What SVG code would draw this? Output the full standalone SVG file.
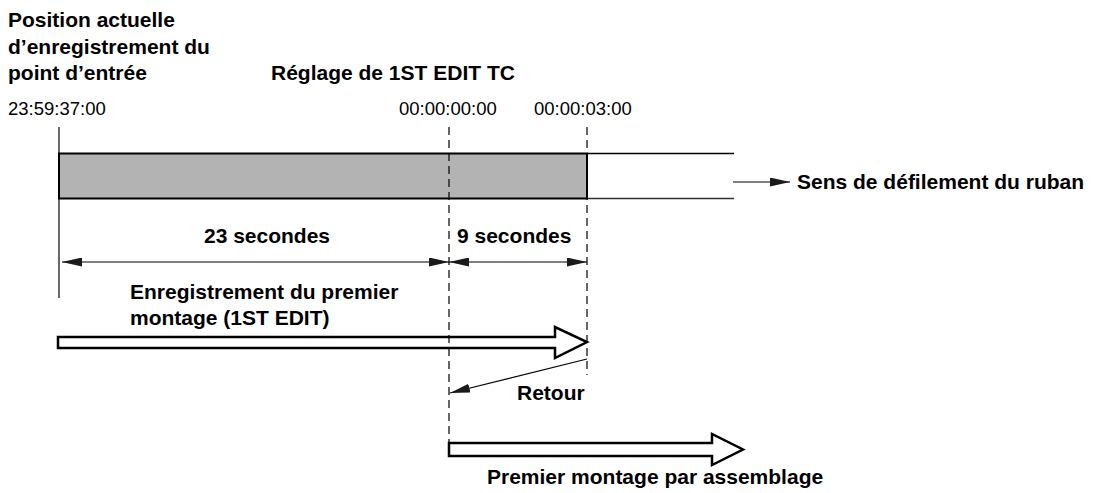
<svg xmlns="http://www.w3.org/2000/svg" width="1094" height="493" viewBox="0 0 1094 493">
<style>
.b{font-family:"Liberation Sans",Arial,sans-serif;font-weight:bold;font-size:21px;fill:#000}
.r{font-family:"Liberation Sans",Arial,sans-serif;font-size:18.5px;fill:#000}
.dash{stroke:#000;stroke-width:1.2;stroke-dasharray:8 5;fill:none}
.thin{stroke:#000;stroke-width:1.2;fill:none}
.hollow{fill:#fff;stroke:#000;stroke-width:2.5;stroke-linejoin:miter}
</style>
<defs>
<marker id="ah" viewBox="0 0 20 9" refX="20" refY="4.5" markerWidth="20" markerHeight="9" markerUnits="userSpaceOnUse" orient="auto-start-reverse">
<path d="M0,0 L20,4.5 L0,9 Z" fill="#1a1a1a"/>
</marker>
</defs>
<rect width="1094" height="493" fill="#fff"/>
<g id="labels">
<text class="b" x="8" y="27">Position actuelle</text>
<text class="b" x="8" y="53.5">d’enregistrement du</text>
<text class="b" x="8" y="80">point d’entrée</text>
<text class="b" x="271" y="80">Réglage de 1ST EDIT TC</text>
<text class="r" x="8" y="115">23:59:37:00</text>
<text class="r" x="399" y="115">00:00:00:00</text>
<text class="r" x="534" y="115">00:00:03:00</text>
</g>
<g id="tape">
<line x1="587" y1="153.5" x2="734" y2="153.5" stroke="#000" stroke-width="1.5"/>
<line x1="587" y1="198.5" x2="734" y2="198.5" stroke="#333" stroke-width="1.5"/>
<rect x="59" y="153.5" width="528" height="45" fill="#b3b3b3" stroke="#000" stroke-width="2"/>
</g>
<g id="direction">
<text class="b" x="797" y="189">Sens de défilement du ruban</text>
</g>
<g id="first-edit">
<polygon class="hollow" points="58,337 555,337 555,327 587,342 555,358 555,348 58,348"/>
<text class="b" x="130" y="299">Enregistrement du premier</text>
<text class="b" x="130" y="325">montage (1ST EDIT)</text>
</g>
<g id="assemble">
<polygon class="hollow" points="449,443 712,443 712,434 743,449.5 712,465 712,456 449,456"/>
<text class="b" x="487" y="484">Premier montage par assemblage</text>
</g>
<g id="durations">
<text class="b" x="267" y="243" text-anchor="middle">23 secondes</text>
<text class="b" x="457" y="243">9 secondes</text>
<text class="b" x="517" y="400">Retour</text>
</g>
<g id="connectors">
<line class="thin" x1="59" y1="127" x2="59" y2="298"/>
<line class="dash" x1="449" y1="127" x2="449" y2="442"/>
<line class="dash" x1="587" y1="127" x2="587" y2="375"/>
<line class="thin" x1="62" y1="262" x2="449" y2="262" marker-start="url(#ah)" marker-end="url(#ah)"/>
<line class="thin" x1="449" y1="262" x2="587" y2="262" marker-start="url(#ah)" marker-end="url(#ah)"/>
<line class="thin" x1="587" y1="359" x2="450" y2="393" marker-end="url(#ah)"/>
<line class="thin" x1="733" y1="182" x2="790" y2="182" marker-end="url(#ah)"/>
</g>
</svg>
